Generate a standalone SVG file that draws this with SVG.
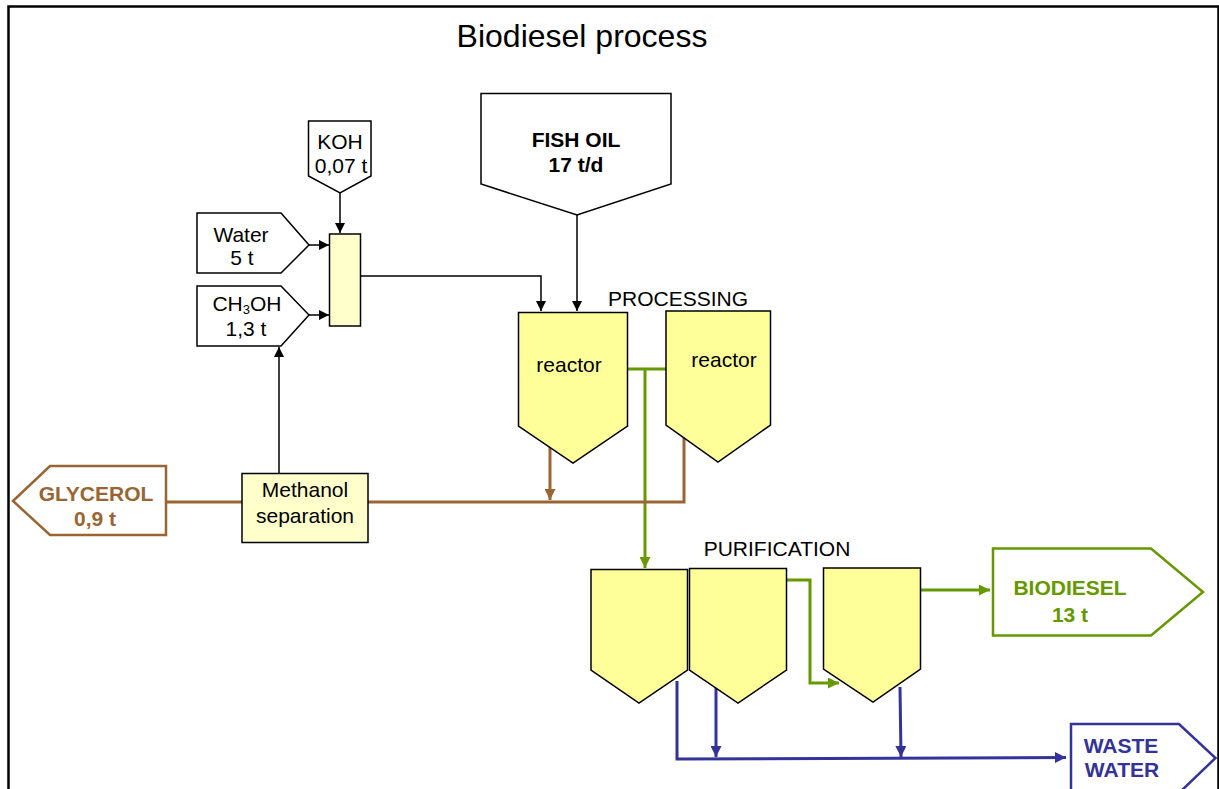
<svg xmlns="http://www.w3.org/2000/svg" width="1219" height="789" viewBox="0 0 1219 789">
<style>
text{font-family:"Liberation Sans",Arial,sans-serif;font-size:21px;text-anchor:middle;fill:#000}
.b{font-weight:bold}
.box{fill:#fff;stroke:#000;stroke-width:1.5}
.tank{fill:#FFFF99;stroke:#000;stroke-width:1.5}
.pale{fill:#FFFFCC;stroke:#000;stroke-width:1.5}
.k{fill:none;stroke:#000;stroke-width:1.5}
.g{fill:none;stroke:#669900;stroke-width:3}
.br{fill:none;stroke:#996633;stroke-width:3}
.bl{fill:none;stroke:#333399;stroke-width:3}
</style>
<defs>
<marker id="ak" viewBox="0 0 10 10" refX="10" refY="5" markerWidth="11" markerHeight="10" markerUnits="userSpaceOnUse" orient="auto"><path d="M0,0L10,5L0,10z" fill="#000"/></marker>
<marker id="ag" viewBox="0 0 10 10" refX="10" refY="5" markerWidth="11" markerHeight="11" markerUnits="userSpaceOnUse" orient="auto"><path d="M0,0L10,5L0,10z" fill="#669900"/></marker>
<marker id="abr" viewBox="0 0 10 10" refX="10" refY="5" markerWidth="11" markerHeight="11" markerUnits="userSpaceOnUse" orient="auto"><path d="M0,0L10,5L0,10z" fill="#996633"/></marker>
<marker id="abl" viewBox="0 0 10 10" refX="10" refY="5" markerWidth="11" markerHeight="11" markerUnits="userSpaceOnUse" orient="auto"><path d="M0,0L10,5L0,10z" fill="#333399"/></marker>
</defs>
<rect width="1219" height="789" fill="#fff"/>
<path d="M8.5,790V6.5H1218.5V790" fill="none" stroke="#000" stroke-width="2.5"/>
<text x="582" y="47" style="font-size:32px">Biodiesel process</text>
<text x="678" y="306">PROCESSING</text>
<text x="777" y="556">PURIFICATION</text>

<g id="connectors">
<path class="k" d="M340,193V233" marker-end="url(#ak)"/>
<path class="k" d="M309,245H329" marker-end="url(#ak)"/>
<path class="k" d="M309,315H329" marker-end="url(#ak)"/>
<path class="k" d="M360,276H541V311" marker-end="url(#ak)"/>
<path class="k" d="M577,215V311" marker-end="url(#ak)"/>
<path class="k" d="M279,473V347" marker-end="url(#ak)"/>
<path class="g" d="M628,369H671"/>
<path class="g" d="M645,369V568" marker-end="url(#ag)"/>
<path class="br" d="M550,446V500" marker-end="url(#abr)"/>
<path class="br" d="M684,436V502H368"/>
<path class="br" d="M242,502H166"/>
<path class="g" d="M787,580H810V683H839" marker-end="url(#ag)"/>
<path class="g" d="M921,590H990" marker-end="url(#ag)"/>
<path class="bl" d="M677,681V759L1066,757.5" marker-end="url(#abl)"/>
<path class="bl" d="M716,686V757" marker-end="url(#abl)"/>
<path class="bl" d="M900,687L901,757" marker-end="url(#abl)"/>
</g>

<g id="koh">
<path class="box" d="M308.5,121H371V176L340,193L308.5,176Z"/>
<text x="340" y="149">KOH</text>
<text x="341" y="173">0,07 t</text>
</g>
<g id="water">
<path class="box" d="M197,213H281L309,245L281,273H197Z"/>
<text x="241" y="242">Water</text>
<text x="242" y="265">5 t</text>
</g>
<g id="ch3oh">
<path class="box" d="M197,286H281L309,315L281,346H197Z"/>
<text x="247" y="311">CH<tspan dy="3" style="font-size:13px">3</tspan><tspan dy="-3">OH</tspan></text>
<text x="246" y="336">1,3 t</text>
</g>
<g id="mixer">
<rect class="pale" x="329.5" y="234" width="31" height="92"/>
</g>
<g id="fishoil">
<path class="box" d="M481,93.5H671V184L577,215L481,184Z"/>
<text class="b" x="576" y="147">FISH OIL</text>
<text class="b" x="576" y="172">17 t/d</text>
</g>
<g id="reactor1">
<path class="tank" d="M518.5,312.5H627.5V426L573,463L518.5,426Z"/>
<text x="569" y="372">reactor</text>
</g>
<g id="reactor2">
<path class="tank" d="M666,311H770.5V425L718,462L666,425Z"/>
<text x="724" y="367">reactor</text>
</g>
<g id="methanol">
<rect class="pale" x="242" y="473.5" width="126" height="69"/>
<text x="305" y="497">Methanol</text>
<text x="305" y="523">separation</text>
</g>
<g id="glycerol">
<path d="M13,501L50,466H166V535H50Z" fill="#fff" stroke="#996633" stroke-width="2.5"/>
<text class="b" x="96" y="501" style="fill:#996633">GLYCEROL</text>
<text class="b" x="95" y="526" style="fill:#996633">0,9 t</text>
</g>
<g id="tank1">
<path class="tank" d="M591,569.5H687.5V670L639,703L591,670Z"/>
</g>
<g id="tank2">
<path class="tank" d="M689.5,568.5H786.5V670L738,703L689.5,670Z"/>
</g>
<g id="tank3">
<path class="tank" d="M823.5,568H920.5V669L873,702L823.5,669Z"/>
</g>
<g id="biodiesel">
<path d="M993,548.5H1151L1203,592L1151,635.5H993Z" fill="#fff" stroke="#669900" stroke-width="2.5"/>
<text class="b" x="1070" y="595" style="fill:#669900">BIODIESEL</text>
<text class="b" x="1070" y="622" style="fill:#669900">13 t</text>
</g>
<g id="wastewater">
<path d="M1071,724H1179L1215.5,758L1179,793H1071Z" fill="#fff" stroke="#333399" stroke-width="2.5"/>
<text class="b" x="1121" y="753" style="fill:#333399">WASTE</text>
<text class="b" x="1122" y="777" style="fill:#333399">WATER</text>
</g>
</svg>
